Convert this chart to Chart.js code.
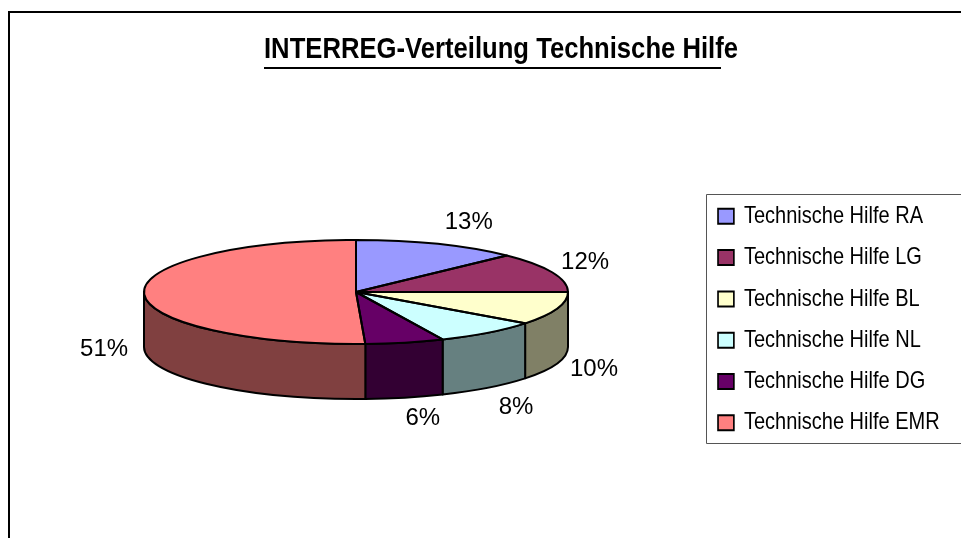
<!DOCTYPE html>
<html>
<head>
<meta charset="utf-8">
<style>
  html, body { margin: 0; padding: 0; background: #fff; overflow: hidden; }
  canvas { display: block; }
</style>
<script src="https://cdn.jsdelivr.net/npm/chart.js@4"></script>
</head>
<body>
<canvas id="myChart" width="961" height="538"></canvas>
<script>
var titel = "INTERREG-Verteilung Technische Hilfe";
var kategorien = ["Technische Hilfe RA", "Technische Hilfe LG", "Technische Hilfe BL",
                  "Technische Hilfe NL", "Technische Hilfe DG", "Technische Hilfe EMR"];
var prozent = [12.6, 12.4, 10.3, 8, 6, 50.7];
var farben = ["#9999FF", "#993366", "#FFFFCC", "#CCFFFF", "#660066", "#FF8080"];
var seitenFarben = ["#4C4C80", "#4C1933", "#808066", "#668080", "#330033", "#804040"];

// squash of the pie and height of the rim
var stauchung = 52 / 212;
var tiefe = 55;
// label distance from the slice's rim point
var labelVersatz = [[31, -22], [33, -10], [37, 61], [28, 75], [18, 76], [-40, 56]];

// the original text is narrow, no condensed font here so it gets squeezed
function schmal(box, k) {
    var zeichnen = box.draw;
    box.draw = function () {
        var c = box.ctx;
        c.save();
        c.translate(box.left, 0);
        c.scale(k, 1);
        c.translate(-box.left, 0);
        zeichnen.apply(box, arguments);
        c.restore();
    };
}

var rahmen = {
    id: "rahmen",
    afterLayout: function (chart) {
        // title and legend are put where the original has them
        var t = chart.titleBlock;
        // the title gets squeezed by its own width limit
        t.left = 264; t.right = 738; t.top = 34; t.bottom = 65;
        var l = chart.legend;
        var w = l.width, h = l.height;
        l.left = 703.6; l.top = 187; l.right = l.left + w; l.bottom = l.top + h;
        if (!this.fertig) {
            schmal(l, 0.834);
            this.fertig = true;
        }
    },
    beforeDraw: function (chart) {
        var c = chart.ctx;
        c.save();
        c.strokeStyle = "#000";
        c.lineWidth = 2;
        c.beginPath();
        c.moveTo(9, 538);
        c.lineTo(9, 12);
        c.lineTo(961, 12);
        c.stroke();
        // legend frame, open to the right
        c.strokeStyle = "#555";
        c.lineWidth = 1;
        c.beginPath();
        c.moveTo(961, 194.5);
        c.lineTo(706.5, 194.5);
        c.lineTo(706.5, 443.5);
        c.lineTo(961, 443.5);
        c.stroke();
        c.restore();
    },
    afterDraw: function (chart) {
        var c = chart.ctx;
        c.save();
        c.fillStyle = "#000";
        c.fillRect(264, 67, 457, 2);
        c.restore();
    }
};

var torte3d = {
    id: "torte3d",
    beforeDatasetsDraw: function (chart) {
        var c = chart.ctx;
        var arcs = chart.getDatasetMeta(0).data;
        c.save();
        c.strokeStyle = "#000";
        c.lineWidth = 2;
        c.lineJoin = "round";
        arcs.forEach(function (a, i) {
            var s = Math.max(a.startAngle, 0);
            var e = Math.min(a.endAngle, Math.PI);
            if (e <= s) return;
            var rx = a.outerRadius, ry = rx * stauchung;
            c.beginPath();
            c.ellipse(a.x, a.y, rx, ry, 0, s, e);
            c.ellipse(a.x, a.y + tiefe, rx, ry, 0, e, s, true);
            c.closePath();
            c.fillStyle = seitenFarben[i];
            c.fill();
            c.stroke();
        });
        c.restore();
    },
    beforeDatasetDraw: function (chart) {
        var c = chart.ctx;
        var a = chart.getDatasetMeta(0).data[0];
        c.save();
        c.translate(a.x, a.y);
        c.scale(1, stauchung);
        c.translate(-a.x, -a.y);
    },
    afterDatasetDraw: function (chart) {
        chart.ctx.restore();
    },
    afterDatasetsDraw: function (chart) {
        var c = chart.ctx;
        var arcs = chart.getDatasetMeta(0).data;
        c.save();
        c.strokeStyle = "#000";
        c.lineWidth = 2;
        c.lineJoin = "round";
        arcs.forEach(function (a, i) {
            var rx = a.outerRadius, ry = rx * stauchung;
            c.beginPath();
            c.moveTo(a.x, a.y);
            c.ellipse(a.x, a.y, rx, ry, 0, a.startAngle, a.endAngle);
            c.closePath();
            c.stroke();
        });
        c.fillStyle = "#000";
        c.font = "24px 'Liberation Sans', Arial, sans-serif";
        c.textAlign = "center";
        c.textBaseline = "middle";
        arcs.forEach(function (a, i) {
            var rx = a.outerRadius, ry = rx * stauchung;
            var m = (a.startAngle + a.endAngle) / 2;
            var x = a.x + rx * Math.cos(m) + labelVersatz[i][0];
            var y = a.y + ry * Math.sin(m) + labelVersatz[i][1];
            c.fillText(Math.round(prozent[i]) + "%", x, y);
        });
        c.restore();
    }
};

var ctx = document.getElementById("myChart").getContext("2d");
var myChart = new Chart(ctx, {
    type: "pie",
    data: {
        labels: kategorien,
        datasets: [{ data: prozent, backgroundColor: farben, borderWidth: 0 }]
    },
    options: {
        responsive: false,
        animation: false,
        layout: { padding: { left: 144, right: 393, top: 49.1, bottom: 34 } },
        plugins: {
            tooltip: { enabled: false },
            title: {
                display: true,
                text: titel,
                align: "start",
                color: "#000",
                padding: 0,
                font: { family: "'Liberation Sans', Arial", size: 30, weight: "bold", lineHeight: 1.03 }
            },
            legend: {
                position: "chartArea",
                align: "start",
                labels: {
                    color: "#000",
                    boxWidth: 19,
                    boxHeight: 15,
                    padding: 17.3,
                    font: { family: "'Liberation Sans', Arial", size: 24 },
                    generateLabels: function (chart) {
                        return Chart.overrides.pie.plugins.legend.labels.generateLabels(chart).map(function (it) {
                            it.strokeStyle = "#000";
                            it.lineWidth = 2;
                            return it;
                        });
                    }
                }
            }
        }
    },
    plugins: [rahmen, torte3d]
});
</script>
</body>
</html>
